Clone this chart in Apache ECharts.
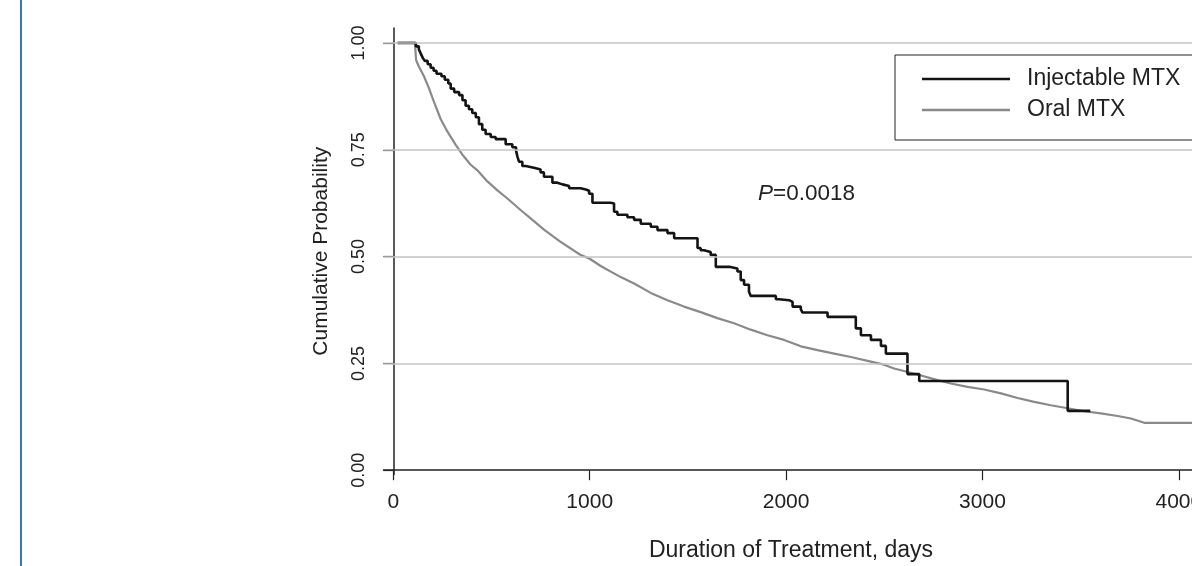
<!DOCTYPE html>
<html>
<head>
<meta charset="utf-8">
<script src="https://cdn.jsdelivr.net/npm/echarts@6/dist/echarts.min.js"></script>
<style>
  html, body { margin: 0; padding: 0; background: #fff; }
  #chart { width: 1192px; height: 566px; }
</style>
</head>
<body>
<div id="chart"></div>
<script>
// Kaplan-Meier style curves: [days, probability]
var injectable = [
    [22, 1.0], [115, 0.992], [130, 0.985], [140, 0.975], [150, 0.965], [160, 0.958],
    [175, 0.95], [190, 0.942], [205, 0.935], [220, 0.928], [245, 0.922], [262, 0.914],
    [280, 0.905], [292, 0.893], [310, 0.885], [335, 0.878], [352, 0.866], [368, 0.853],
    [385, 0.845], [402, 0.836], [420, 0.826], [436, 0.81], [453, 0.797], [470, 0.787],
    [496, 0.78], [521, 0.775], [572, 0.763], [606, 0.756], [625, 0.748], [632, 0.734],
    [640, 0.722], [657, 0.712], [674, 0.708], [716, 0.704], [750, 0.697], [767, 0.687],
    [810, 0.673], [835, 0.669], [861, 0.665], [895, 0.66], [954, 0.657], [980, 0.654],
    [997, 0.647], [1014, 0.626], [1107, 0.624], [1124, 0.605], [1141, 0.598], [1192, 0.592],
    [1226, 0.586], [1260, 0.577], [1311, 0.57], [1345, 0.562], [1396, 0.555], [1430, 0.543],
    [1549, 0.52], [1565, 0.515], [1582, 0.511], [1616, 0.504], [1642, 0.476], [1710, 0.472],
    [1752, 0.465], [1769, 0.445], [1786, 0.434], [1811, 0.418], [1820, 0.408], [1948, 0.4],
    [1964, 0.398], [2015, 0.394], [2033, 0.383], [2075, 0.377], [2083, 0.369], [2211, 0.359],
    [2355, 0.332], [2381, 0.316], [2432, 0.305], [2483, 0.291], [2508, 0.273], [2618, 0.225],
    [2678, 0.209], [3434, 0.139], [3549, 0.139]
];

var oral = [
    [22, 1.0], [110, 1.0], [116, 0.96], [130, 0.945], [156, 0.922], [181, 0.895],
    [207, 0.862], [241, 0.822], [275, 0.793], [317, 0.762], [351, 0.739], [394, 0.715],
    [428, 0.702], [479, 0.676], [530, 0.655], [581, 0.636], [648, 0.609], [716, 0.583],
    [767, 0.563], [850, 0.535], [950, 0.505], [1000, 0.495], [1056, 0.478], [1158, 0.452],
    [1226, 0.437], [1311, 0.415], [1396, 0.398], [1480, 0.383], [1565, 0.37], [1650, 0.356],
    [1735, 0.344], [1820, 0.329], [1905, 0.316], [1990, 0.305], [2075, 0.29], [2160, 0.281],
    [2245, 0.273], [2330, 0.265], [2415, 0.256], [2499, 0.247], [2550, 0.238], [2669, 0.224],
    [2771, 0.211], [2839, 0.203], [2924, 0.195], [3009, 0.189], [3094, 0.18], [3179, 0.169],
    [3263, 0.16], [3348, 0.152], [3434, 0.145], [3518, 0.138], [3603, 0.133], [3688, 0.127],
    [3756, 0.121], [3824, 0.111], [4100, 0.111]
];

var xTicks = [0, 1000, 2000, 3000, 4000];
var yTicks = [0, 0.25, 0.5, 0.75, 1];
var seriesNames = ['Injectable MTX', 'Oral MTX'];
var pText = '{i|P}=0.0018';

var font = 'Liberation Sans, Arial, Helvetica, sans-serif';
var ink = '#222';

var chart = echarts.init(document.getElementById('chart'));
chart.setOption({
    animation: false,
    backgroundColor: '#fff',
    textStyle: { fontFamily: font, color: ink },
    graphic: [{
        type: 'rect',
        shape: { x: 20, y: 0, width: 2, height: 566 },
        style: { fill: '#3a76c0' }
    }],
    title: {
        text: pText,
        left: 753,
        top: 177,
        textStyle: {
            fontFamily: font, fontSize: 22.5, fontWeight: 'normal', color: ink,
            rich: { i: { fontFamily: font, fontSize: 22.5, fontStyle: 'italic', color: ink } }
        }
    },
    legend: {
        data: seriesNames,
        orient: 'vertical',
        left: 895,
        top: 55,
        icon: 'rect',
        itemWidth: 88,
        itemHeight: 2.5,
        itemGap: 7,
        padding: [12, 200, 18, 27],
        backgroundColor: '#fff',
        borderColor: ink,
        borderWidth: 1,
        borderRadius: 0,
        textStyle: { fontFamily: font, fontSize: 23, color: ink, lineHeight: 24, padding: [0, 0, 0, 12] }
    },
    grid: { left: 383.5, top: 28, width: 815, height: 446.5, outerBoundsMode: 'none', containLabel: false },
    xAxis: {
        type: 'value',
        min: -50,
        max: 4100,
        name: 'Duration of Treatment, days',
        nameLocation: 'middle',
        nameGap: 65,
        nameTextStyle: { fontFamily: font, fontSize: 23, color: ink },
        axisLine: { lineStyle: { color: ink, width: 1.5 } },
        axisTick: { customValues: xTicks, length: 10, lineStyle: { color: ink, width: 1.2 } },
        axisLabel: {
            customValues: xTicks, fontFamily: font, fontSize: 21, color: ink, margin: 17,
            formatter: function (v) { return String(v); }
        },
        splitLine: { show: false }
    },
    yAxis: {
        type: 'value',
        min: -0.01,
        max: 1.035,
        name: 'Cumulative Probability',
        nameLocation: 'middle',
        nameGap: 52,
        nameTextStyle: { fontFamily: font, fontSize: 21, color: ink },
        axisLine: { show: true, lineStyle: { color: ink, width: 1.5 } },
        axisTick: { show: true, customValues: yTicks, length: 10, lineStyle: { color: ink, width: 1.2 } },
        axisLabel: {
            customValues: yTicks,
            rotate: 90,
            margin: 15,
            fontFamily: font,
            fontSize: 18,
            color: ink,
            formatter: function (v) { return v.toFixed(2); }
        },
        splitLine: { show: false }
    },
    series: [{
        name: 'grid',
        type: 'line',
        data: [],
        z: 1,
        silent: true,
        markLine: {
            silent: true,
            symbol: 'none',
            label: { show: false },
            lineStyle: { color: '#c4c4c4', width: 1.5, type: 'solid' },
            data: yTicks.filter(function (v) { return v > 0; }).map(function (v) { return { yAxis: v }; })
        }
    }, {
        name: seriesNames[1],
        type: 'line',
        data: oral,
        symbol: 'none',
        z: 3,
        lineStyle: { color: '#8a8a8a', width: 2.2 },
        itemStyle: { color: '#8a8a8a' }
    }, {
        name: seriesNames[0],
        type: 'line',
        step: 'end',
        data: injectable,
        symbol: 'none',
        z: 4,
        lineStyle: { color: '#141414', width: 2.6 },
        itemStyle: { color: '#141414' }
    }]
});
</script>
</body>
</html>
